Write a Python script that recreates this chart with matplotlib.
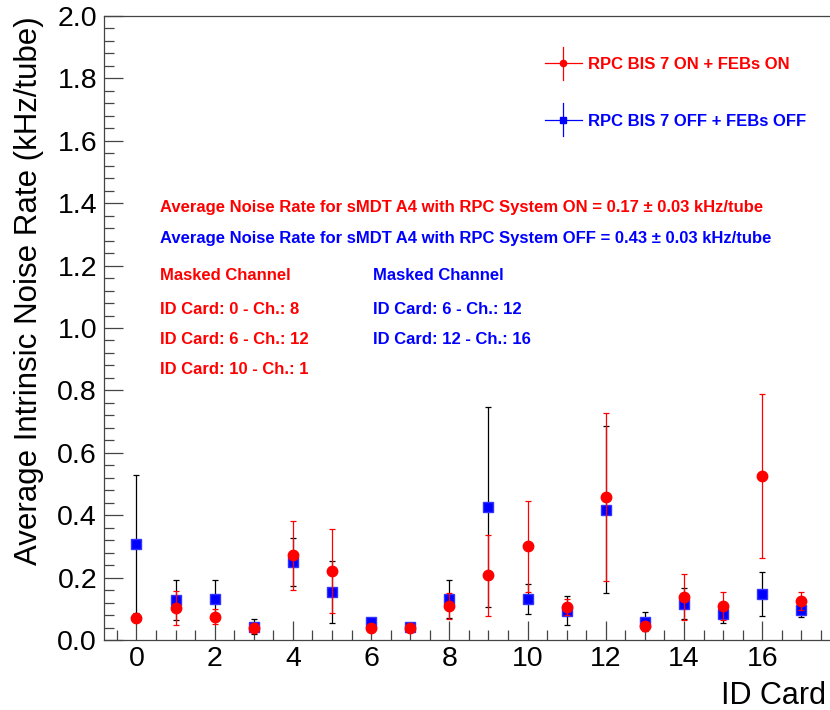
import matplotlib
matplotlib.use("Agg")
import matplotlib.pyplot as plt
import numpy as np
from matplotlib.lines import Line2D
from matplotlib.legend_handler import HandlerBase
from matplotlib.ticker import FixedLocator, FormatStrFormatter

# ID cards and measured noise rates (kHz/tube)
id_card = np.arange(18)
on_rate = [0.069, 0.103, 0.075, 0.040, 0.271, 0.222, 0.038, 0.038, 0.109,
           0.208, 0.300, 0.106, 0.459, 0.044, 0.138, 0.109, 0.526, 0.125]
on_err = [0.010, 0.055, 0.025, 0.010, 0.110, 0.135, 0.006, 0.006, 0.042,
          0.130, 0.145, 0.025, 0.270, 0.015, 0.074, 0.044, 0.263, 0.028]
off_rate = [0.307, 0.128, 0.131, 0.042, 0.250, 0.153, 0.057, 0.042, 0.131,
            0.426, 0.131, 0.094, 0.418, 0.059, 0.116, 0.084, 0.147, 0.095]
off_err = [0.222, 0.065, 0.060, 0.024, 0.077, 0.100, 0.008, 0.006, 0.060,
           0.320, 0.048, 0.047, 0.268, 0.030, 0.050, 0.030, 0.071, 0.022]

label_on = "RPC BIS 7 ON + FEBs ON"
label_off = "RPC BIS 7 OFF + FEBs OFF"
avg_on = "Average Noise Rate for sMDT A4 with RPC System ON = 0.17 \u00b1 0.03 kHz/tube"
avg_off = "Average Noise Rate for sMDT A4 with RPC System OFF = 0.43 \u00b1 0.03 kHz/tube"
masked_on = ["ID Card: 0 - Ch.: 8", "ID Card: 6 - Ch.: 12", "ID Card: 10 - Ch.: 1"]
masked_off = ["ID Card: 6 - Ch.: 12", "ID Card: 12 - Ch.: 16"]

plt.rcParams['font.family'] = ['Liberation Sans', 'DejaVu Sans']


class CrossHandler(HandlerBase):
    # ROOT-like legend glyph: marker with a cross of error lines
    def create_artists(self, legend, orig_handle, xdescent, ydescent, width, height, fontsize, trans):
        cx = width / 2 - xdescent
        cy = height / 2 - ydescent
        c = orig_handle.get_color()
        hl = Line2D([-xdescent, width - xdescent], [cy, cy], color=c, lw=0.9, transform=trans)
        vl = Line2D([cx, cx], [cy - width / 2.2, cy + width / 2.2], color=c, lw=0.9,
                    transform=trans)
        mk = Line2D([cx], [cy], ls='none', marker=orig_handle.get_marker(), ms=4.5, color=c,
                    transform=trans)
        return [hl, vl, mk]


W, H = 830, 710
fig = plt.figure(figsize=(W / 100, H / 100), dpi=100)
ax_left, ax_right, ax_top, ax_bot = 104, 860, 16, 640
ax = fig.add_axes([ax_left / W, 1 - ax_bot / H, (ax_right - ax_left) / W, (ax_bot - ax_top) / H])

ax.errorbar(id_card, off_rate, yerr=off_err, fmt='s', color='blue', ms=7, mec='#3333ff',
            ecolor='black', elinewidth=0.9, capsize=2, capthick=0.9, zorder=3)
ax.errorbar(id_card, on_rate, yerr=on_err, fmt='o', color='red', ms=7.5, mec='red',
            ecolor='red', elinewidth=0.9, capsize=2, capthick=0.9, zorder=4)

ax.set_xlim(-0.83, 18.5)
ax.set_ylim(0, 2.0)
ax.xaxis.set_major_locator(FixedLocator(np.arange(0, 17, 2)))
ax.xaxis.set_minor_locator(FixedLocator(np.arange(-0.5, 18.6, 0.5)))
ax.yaxis.set_major_locator(FixedLocator(np.arange(0, 2.01, 0.2)))
ax.yaxis.set_minor_locator(FixedLocator(np.arange(0, 2.01, 0.04)))
ax.yaxis.set_major_formatter(FormatStrFormatter('%.1f'))
ax.tick_params(which='both', direction='in', color='#444444', width=0.9,
               top=False, right=False, labelsize=20.5)
ax.tick_params(which='major', length=14)
ax.tick_params(which='minor', length=7.5)
ax.tick_params(axis='y', pad=5)
ax.tick_params(axis='x', pad=4)
for s in ax.spines.values():
    s.set_color('#444444')
    s.set_linewidth(0.9)

ax.set_ylabel("Average Intrinsic Noise Rate (kHz/tube)", fontsize=22.5, loc='top')
ax.yaxis.set_label_coords(-0.08, 1.0)
ax.set_xlabel("ID Card", fontsize=22, loc='right')
ax.xaxis.set_label_coords(0.955, -0.066)

# legend
h_on = Line2D([], [], marker='o', color='red')
h_off = Line2D([], [], marker='s', color='blue')
fig.legend([h_on, h_off], [label_on, label_off], handler_map={Line2D: CrossHandler()},
           loc='upper left', bbox_to_anchor=(545 / W, 1 - 57 / H), frameon=False,
           borderpad=0, borderaxespad=0, handlelength=2.2, handletextpad=0.4,
           labelspacing=2.5, labelcolor=['red', 'blue'],
           prop={'weight': 'bold', 'size': 12})


def put(x, y, s, c):
    fig.text(x / W, 1 - y / H, s, color=c, fontsize=12, fontweight='bold', va='center', ha='left')


put(160, 207, avg_on, 'red')
put(160, 239, avg_off, 'blue')
put(160, 276, "Masked Channel", 'red')
put(373, 276, "Masked Channel", 'blue')
for i, s in enumerate(masked_on):
    put(160, 310 + i * 30, s, 'red')
for i, s in enumerate(masked_off):
    put(373, 310 + i * 30, s, 'blue')

fig.savefig("out.png", dpi=100)
